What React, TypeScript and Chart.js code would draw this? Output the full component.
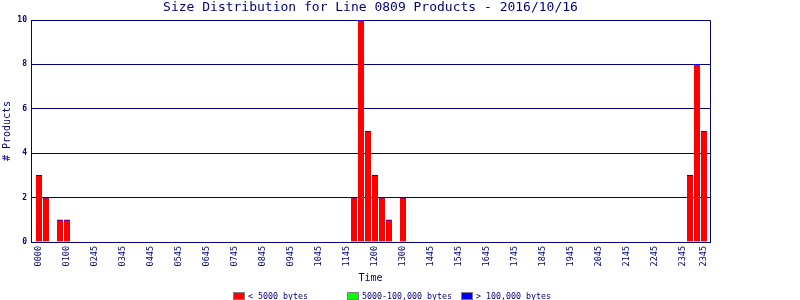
import React, { useEffect, useRef } from "react";
import { Chart, registerables } from "chart.js";

Chart.register(...registerables);

// ---- data ----
const chartTitle = "Size Distribution for Line 0809 Products - 2016/10/16";
const xTitle = "Time";
const yTitle = "# Products";
const slotCount = 96;
const tickSlots = [0, 4, 8, 12, 16, 20, 24, 28, 32, 36, 40, 44, 48, 52, 56, 60, 64, 68, 72, 76, 80, 84, 88, 92, 95];
const tickLabels = ["0000", "0100", "0245", "0345", "0445", "0545", "0645", "0745", "0845", "0945", "1045", "1145", "1200", "1300", "1445", "1545", "1645", "1745", "1845", "1945", "2045", "2145", "2245", "2345", "2345"];
const seriesNames = ["< 5000 bytes", "5000-100,000 bytes", "> 100,000 bytes"];
const smallSlots = [0, 1, 3, 4, 45, 46, 47, 48, 49, 50, 52, 93, 94, 95];
const smallCounts = [3, 2, 1, 1, 2, 10, 5, 3, 2, 1, 2, 3, 8, 5];
const mediumSlots: number[] = [];
const mediumCounts: number[] = [];
const largeSlots: number[] = [];
const largeCounts: number[] = [];
const yMin = 0;
const yMax = 10;
const yStep = 2;

// ---- styles ----
const NAVY = "#000080";
const FONT = "'DejaVu Sans Mono', monospace";
const seriesColors = ["#ff0000", "#00ff00", "#0000ff"];

function buildSeries(slots: number[], counts: number[]) {
  const arr: { x: number; y: number | null }[] = [];
  for (let i = 0; i < slotCount; i++) arr.push({ x: i, y: null });
  slots.forEach((s, k) => {
    arr[s].y = counts[k];
  });
  return arr;
}

const framePlugin = {
  id: "frame",
  beforeDatasetsDraw(chart: any) {
    const { ctx, chartArea } = chart;
    ctx.save();
    ctx.strokeStyle = NAVY;
    ctx.lineWidth = 1;
    const l = Math.round(chartArea.left) + 0.5;
    const t = Math.round(chartArea.top) + 0.5;
    const r = Math.round(chartArea.right) + 0.5;
    const b = Math.round(chartArea.bottom) + 0.5;
    ctx.beginPath();
    ctx.moveTo(l, t);
    ctx.lineTo(r, t);
    ctx.lineTo(r, b);
    ctx.stroke();
    ctx.restore();
  },
};

const legendPlugin = {
  id: "customLegend",
  afterDraw(chart: any) {
    const { ctx } = chart;
    ctx.save();
    ctx.font = `8.3px ${FONT}`;
    ctx.textBaseline = "middle";
    ctx.textAlign = "left";
    chart.data.datasets.forEach((ds: any, i: number) => {
      const x = 233 + i * 114;
      const y = 292;
      ctx.fillStyle = seriesColors[i];
      ctx.fillRect(x, y, 12, 8);
      ctx.strokeStyle = "#808080";
      ctx.lineWidth = 1;
      ctx.strokeRect(x + 0.5, y + 0.5, 11, 7);
      ctx.fillStyle = NAVY;
      ctx.fillText(ds.label, x + 15, y + 4.5);
    });
    ctx.restore();
  },
};

export default function App() {
  const ref = useRef<HTMLCanvasElement>(null);

  useEffect(() => {
    document.body.style.margin = "0";
    if (!ref.current) return;
    const datasets = [
      { slots: smallSlots, counts: smallCounts },
      { slots: mediumSlots, counts: mediumCounts },
      { slots: largeSlots, counts: largeCounts },
    ].map((s, i) => ({
      label: seriesNames[i],
      data: buildSeries(s.slots, s.counts),
      backgroundColor: seriesColors[i],
      borderColor: "#0000ff",
      borderWidth: i === 0 ? { top: 1, left: 0, right: 0, bottom: 0 } : 0,
      borderSkipped: "start",
      barThickness: 6,
    }));

    const chart = new Chart(ref.current, {
      type: "bar",
      data: { datasets: datasets as any },
      options: {
        animation: false,
        responsive: false,
        layout: { padding: { top: 0, left: 0, right: 90, bottom: 13 } },
        plugins: {
          legend: { display: false },
          tooltip: { enabled: false },
          title: {
            display: true,
            text: chartTitle,
            fullSize: false,
            color: NAVY,
            font: { family: FONT, size: 13, weight: "normal", lineHeight: 1.2 },
            padding: { top: 0, bottom: 4.4 },
          },
        },
        scales: {
          x: {
            type: "linear",
            stacked: true,
            offset: false,
            min: -8 / 7,
            max: 97 - 8 / 7,
            grid: { display: false, drawTicks: false, offset: false },
            border: { display: true, color: NAVY },
            afterBuildTicks: (scale: any) => {
              scale.ticks = tickSlots.map((v) => ({ value: v }));
            },
            afterFit: (scale: any) => {
              scale.height = 45;
            },
            ticks: {
              autoSkip: false,
              maxRotation: 90,
              minRotation: 90,
              padding: 4,
              color: NAVY,
              font: { family: FONT, size: 8.5 },
              callback: (value: any) => {
                const k = tickSlots.indexOf(Number(value));
                return k >= 0 ? tickLabels[k] : "";
              },
            },
            title: {
              display: true,
              text: xTitle,
              color: NAVY,
              font: { family: FONT, size: 10, lineHeight: 1.2 },
              padding: { top: 0, bottom: 3 },
            },
          },
          y: {
            stacked: true,
            min: yMin,
            max: yMax,
            grid: { color: NAVY, lineWidth: 1, drawTicks: false },
            border: { display: true, color: NAVY },
            afterFit: (scale: any) => {
              scale.width = 31;
            },
            ticks: {
              stepSize: yStep,
              padding: 4,
              color: NAVY,
              font: { family: FONT, size: 8, weight: "bold" },
            },
            title: {
              display: true,
              text: yTitle,
              color: NAVY,
              font: { family: FONT, size: 10, lineHeight: 1.2 },
              padding: { top: 1.5, bottom: 0 },
            },
          },
        },
      } as any,
      plugins: [framePlugin, legendPlugin],
    });
    return () => chart.destroy();
  }, []);

  return (
    <div style={{ width: 800, height: 300 }}>
      <canvas ref={ref} width={800} height={300} style={{ display: "block" }} />
    </div>
  );
}
